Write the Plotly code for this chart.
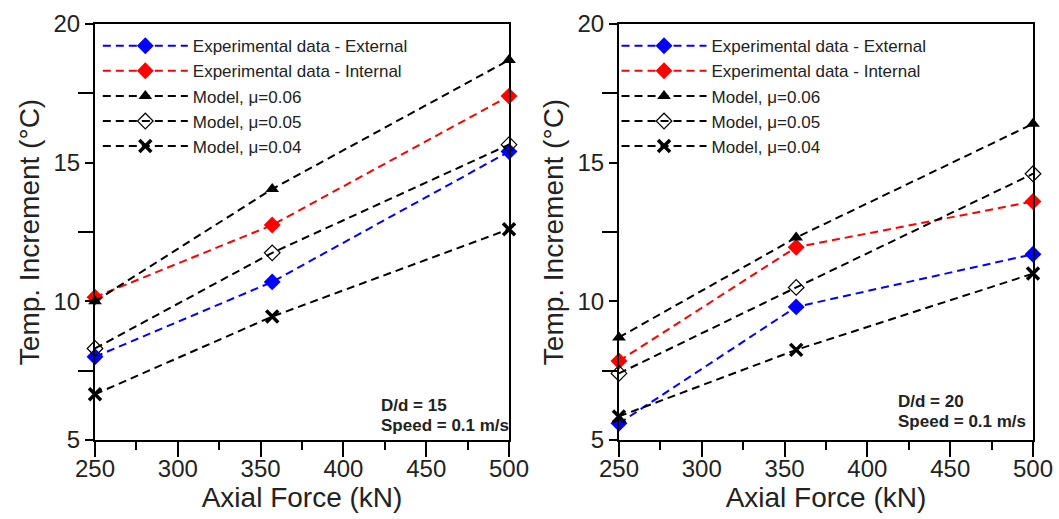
import plotly.graph_objects as go

# Axial force levels (kN)
force = [250, 357, 500]

# D/d = 15
ext_15 = [8.0, 10.7, 15.4]
int_15 = [10.15, 12.75, 17.4]
mu06_15 = [10.0, 14.05, 18.7]
mu05_15 = [8.3, 11.75, 15.65]
mu04_15 = [6.65, 9.45, 12.6]

# D/d = 20
ext_20 = [5.6, 9.8, 11.7]
int_20 = [7.85, 11.95, 13.6]
mu06_20 = [8.7, 12.3, 16.4]
mu05_20 = [7.4, 10.5, 14.6]
mu04_20 = [5.85, 8.25, 11.0]

series_names = [
    "Experimental data - External",
    "Experimental data - Internal",
    "Model, μ=0.06",
    "Model, μ=0.05",
    "Model, μ=0.04",
]

FONT = "Liberation Sans, Arial, sans-serif"
DASH = "8px,5px"

styles = [
    dict(color="#0000FF", marker=dict(symbol="diamond", size=13, color="#0000FF")),
    dict(color="#FF0000", marker=dict(symbol="diamond", size=13, color="#FF0000")),
    dict(color="black", marker=dict(symbol="triangle-up", size=12, color="black")),
    dict(color="black", marker=dict(symbol="diamond-open", size=12, color="black",
                                    line=dict(width=1.2, color="black"))),
    dict(color="black", marker=dict(symbol="x-thin", size=12, color="black",
                                    line=dict(width=3.5, color="black"))),
]

fig = go.Figure()

panels = [
    ("x", "y", "legend", [ext_15, int_15, mu06_15, mu05_15, mu04_15]),
    ("x2", "y2", "legend2", [ext_20, int_20, mu06_20, mu05_20, mu04_20]),
]

for xa, ya, leg, data in panels:
    for name, vals, st in zip(series_names, data, styles):
        fig.add_trace(go.Scatter(
            x=force, y=vals, name=name, mode="lines+markers",
            line=dict(color=st["color"], width=2, dash=DASH),
            marker=st["marker"], xaxis=xa, yaxis=ya, legend=leg,
            cliponaxis=False,
        ))

axis_common = dict(
    showline=True, linewidth=2, linecolor="black", mirror=True,
    ticks="outside", tickwidth=2, tickcolor="black",
    showgrid=False, zeroline=False, automargin=False,
    tickfont=dict(family=FONT, size=24, color="#222"),
)

xcommon = dict(axis_common, range=[250, 500], tickvals=[250, 300, 350, 400, 450, 500],
               ticklen=15, ticklabelstandoff=-9,
               minor=dict(tickvals=[275, 325, 375, 425, 475], ticklen=8, tickwidth=2,
                          tickcolor="black", ticks="outside"),
               title=dict(text="Axial Force (kN)", font=dict(family=FONT, size=28, color="#222"),
                          standoff=0))
ycommon = dict(axis_common, range=[5, 20], tickvals=[5, 10, 15, 20], ticklen=8,
               minor=dict(tickvals=[7.5, 12.5, 17.5], ticklen=15, tickwidth=2,
                          tickcolor="black", ticks="outside"),
               title=dict(text="Temp. Increment (°C)", font=dict(family=FONT, size=28, color="#222"),
                          standoff=6))

legend_common = dict(
    font=dict(family=FONT, size=17, color="#222"),
    bgcolor="rgba(0,0,0,0)", borderwidth=0,
    xanchor="left", yanchor="top", y=0.99,
    itemwidth=85, tracegroupgap=0,
)

fig.update_layout(
    width=1059, height=519,
    margin=dict(l=95, r=26, t=24, b=79, autoexpand=False),
    paper_bgcolor="white", plot_bgcolor="white",
    xaxis=dict(xcommon, domain=[0, 0.4414], anchor="y"),
    yaxis=dict(ycommon, anchor="x"),
    xaxis2=dict(xcommon, domain=[0.5586, 1], anchor="y2"),
    yaxis2=dict(ycommon, anchor="x2"),
    legend=dict(legend_common, x=0.003),
    legend2=dict(legend_common, x=0.556),
    showlegend=True,
)

# Test condition labels, one line each
conditions = [
    ("x domain", "y domain", 0.686, 0.082, 0.034, "D/d = 15"),
    ("x2 domain", "y2 domain", 0.669, 0.092, 0.044, "D/d = 20"),
]
for xr, yr, xpos, y1, y2, label in conditions:
    for ypos, txt in [(y1, label), (y2, "Speed = 0.1 m/s")]:
        fig.add_annotation(
            xref=xr, yref=yr, x=xpos, y=ypos,
            xanchor="left", yanchor="middle", align="left", showarrow=False,
            text=f"<b>{txt}</b>",
            font=dict(family=FONT, size=17, color="#222"),
        )

fig.write_html("out.html")
